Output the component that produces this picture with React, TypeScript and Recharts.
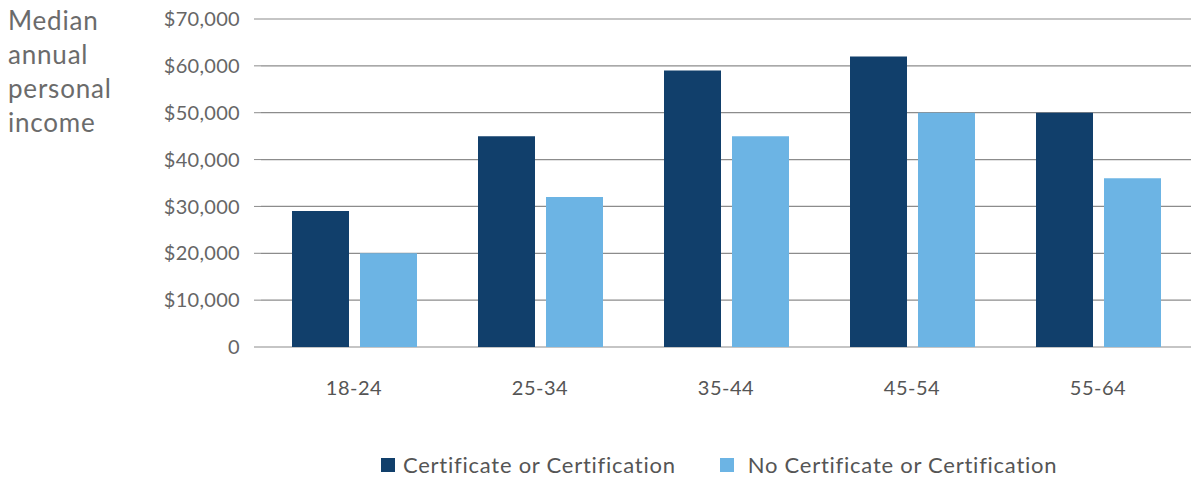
import { BarChart, Bar, XAxis, YAxis, CartesianGrid, Legend } from 'recharts';

const ageGroups = ['18-24', '25-34', '35-44', '45-54', '55-64'];
const withCert = [29000, 45000, 59000, 62000, 50000];
const withoutCert = [20000, 32000, 45000, 50000, 36000];
const yTicks = [0, 10000, 20000, 30000, 40000, 50000, 60000, 70000];

const DARK = '#113f6b';
const LIGHT = '#6cb4e4';
const FONT = 'Lato, "Noto Sans", sans-serif';

const chartData = ageGroups.map((age, i) => ({
  age,
  cert: withCert[i],
  noCert: withoutCert[i],
}));

const fmtMoney = (v: number) => (v === 0 ? '0' : '$' + v.toLocaleString('en-US'));

function LegendBox() {
  const items = [
    { label: 'Certificate or Certification', color: DARK },
    { label: 'No Certificate or Certification', color: LIGHT },
  ];
  return (
    <div style={{ height: 40, display: 'flex', alignItems: 'flex-end', paddingLeft: 381, fontFamily: FONT }}>
      {items.map((it, idx) => (
        <div key={idx} style={{ display: 'flex', alignItems: 'center', marginRight: 44, paddingBottom: 4 }}>
          <span style={{ width: 14, height: 14, background: it.color, display: 'inline-block', marginRight: idx === 0 ? 8 : 14 }} />
          <span style={{ fontSize: 22, color: '#555', lineHeight: '26px', letterSpacing: 0.75 }}>{it.label}</span>
        </div>
      ))}
    </div>
  );
}

export default function App() {
  return (
    <div style={{ position: 'absolute', left: 0, top: 0, width: 1191, height: 482, background: '#fff', fontFamily: FONT }}>
      <div style={{ position: 'absolute', left: 8, top: 3, fontSize: 26, lineHeight: '34px', color: '#6b6b6b', letterSpacing: 0.8 }}>
        Median<br />annual<br />personal<br />income
      </div>
      <BarChart
        width={1191}
        height={482}
        data={chartData}
        margin={{ top: 19, right: 0, bottom: 0, left: 0 }}
        barSize={57}
        barGap={11}
      >
        <CartesianGrid vertical={false} stroke="#8c8c8c" strokeWidth={1.2} />
        <XAxis
          dataKey="age"
          axisLine={false}
          tickLine={false}
          height={95}
          tickMargin={28}
          tick={{ fontSize: 20, fill: '#555', fontFamily: FONT, letterSpacing: 0.5 }}
        />
        <YAxis
          width={261}
          domain={[0, 70000]}
          ticks={yTicks}
          interval={0}
          axisLine={false}
          tickSize={7}
          tickMargin={14}
          tickLine={{ stroke: '#8c8c8c' }}
          tickFormatter={fmtMoney}
          tick={{ fontSize: 20, fill: '#666', fontFamily: FONT, letterSpacing: 0.3 }}
        />
        <Legend verticalAlign="bottom" height={40} content={() => <LegendBox />} />
        <Bar dataKey="cert" name="Certificate or Certification" fill={DARK} isAnimationActive={false} />
        <Bar dataKey="noCert" name="No Certificate or Certification" fill={LIGHT} isAnimationActive={false} />
      </BarChart>
    </div>
  );
}
